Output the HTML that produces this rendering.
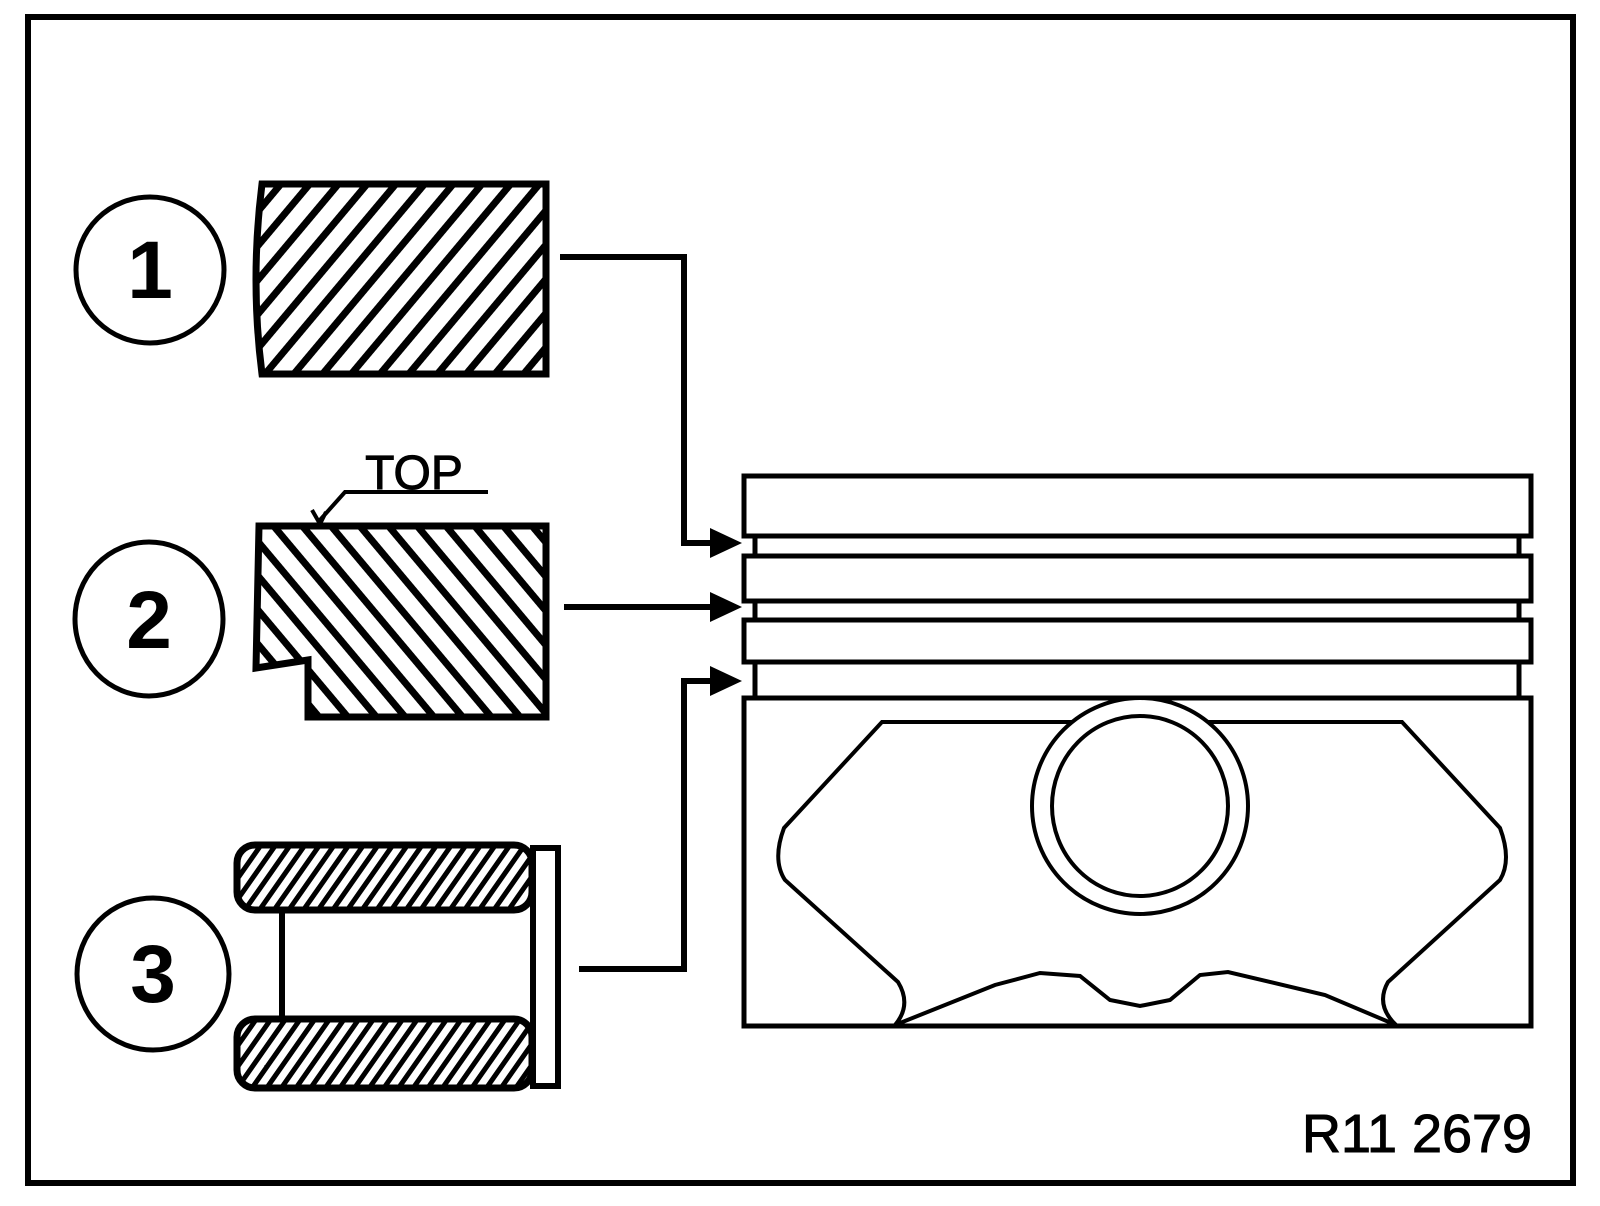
<!DOCTYPE html>
<html><head><meta charset="utf-8"><style>html,body{margin:0;padding:0;background:#fff}svg{display:block}</style></head>
<body>
<svg width="1600" height="1206" viewBox="0 0 1600 1206" xmlns="http://www.w3.org/2000/svg">
<defs>
<pattern id="h1" patternUnits="userSpaceOnUse" width="22" height="22" patternTransform="rotate(40)">
<rect width="22" height="22" fill="#fff"/><rect x="0" y="0" width="7" height="22" fill="#000"/></pattern>
<pattern id="h2" patternUnits="userSpaceOnUse" width="22" height="22" patternTransform="rotate(-40)">
<rect width="22" height="22" fill="#fff"/><rect x="0" y="0" width="7" height="22" fill="#000"/></pattern>
<pattern id="h3" patternUnits="userSpaceOnUse" width="12" height="12" patternTransform="rotate(35)">
<rect width="12" height="12" fill="#fff"/><rect x="0" y="0" width="5" height="12" fill="#000"/></pattern>
</defs>
<rect x="28" y="17" width="1545" height="1166" fill="none" stroke="#000" stroke-width="6"/>
<g fill="none" stroke="#000" stroke-width="5">
<ellipse cx="150" cy="270" rx="74" ry="73"/>
<ellipse cx="149" cy="619" rx="74" ry="77"/>
<ellipse cx="153" cy="974" rx="76" ry="76"/>
</g>
<g font-family="Liberation Sans, sans-serif" font-weight="bold" font-size="82" text-anchor="middle">
<text x="150" y="298">1</text><text x="149" y="648">2</text><text x="153" y="1002">3</text>
</g>
<path d="M266,184 L546,184 L546,374 L262,374 Q250,280 262,184 Z" fill="url(#h1)" stroke="#000" stroke-width="7"/>
<path d="M259,526 L546,526 L546,717 L308,717 L308,660 L256,668 Z" fill="url(#h2)" stroke="#000" stroke-width="7"/>
<text x="414" y="489" font-family="Liberation Sans, sans-serif" font-size="48" text-anchor="middle" stroke="#000" stroke-width="1">TOP</text>
<path d="M488,492 L345,492 L320,520 M312,510 L320,524 L326,512" fill="none" stroke="#000" stroke-width="4"/>
<rect x="237" y="845" width="295" height="65" rx="18" fill="url(#h3)" stroke="#000" stroke-width="7"/>
<rect x="237" y="1019" width="295" height="69" rx="18" fill="url(#h3)" stroke="#000" stroke-width="7"/>
<rect x="533" y="848" width="25" height="238" fill="#fff" stroke="#000" stroke-width="6"/>
<line x1="282" y1="910" x2="282" y2="1019" stroke="#000" stroke-width="6"/>
<g fill="none" stroke="#000" stroke-width="6">
<path d="M560,257 L684,257 L684,543 L715,543"/>
<path d="M564,607 L715,607"/>
<path d="M579,969 L684,969 L684,681 L715,681"/>
</g>
<g fill="#000">
<path d="M710,528 L742,543 L710,558 Z"/>
<path d="M710,592 L742,607 L710,622 Z"/>
<path d="M710,666 L742,681 L710,696 Z"/>
</g>
<g fill="#fff" stroke="#000" stroke-width="5">
<rect x="755" y="536" width="764" height="162"/>
<rect x="744" y="476" width="787" height="60"/>
<rect x="744" y="556" width="787" height="45"/>
<rect x="744" y="620" width="787" height="42"/>
<rect x="744" y="698" width="787" height="328"/>
</g>
<path d="M882,722 L1402,722 L1500,828 Q1512,860 1500,880 L1388,982 Q1375,1005 1396,1025 L1325,995 L1228,972 L1200,975 L1170,1000 L1140,1006 L1110,1000 L1080,976 L1040,973 L995,985 L895,1025 Q912,1005 898,982 L785,880 Q772,860 784,828 Z" fill="none" stroke="#000" stroke-width="4"/>
<ellipse cx="1140" cy="806" rx="108" ry="108" fill="#fff" stroke="#000" stroke-width="4"/>
<ellipse cx="1140" cy="806" rx="88" ry="90" fill="none" stroke="#000" stroke-width="4"/>
<text x="1532" y="1152" font-family="Liberation Sans, sans-serif" font-size="54" text-anchor="end" textLength="230" lengthAdjust="spacingAndGlyphs" stroke="#000" stroke-width="1">R11 2679</text>
</svg>
</body></html>
